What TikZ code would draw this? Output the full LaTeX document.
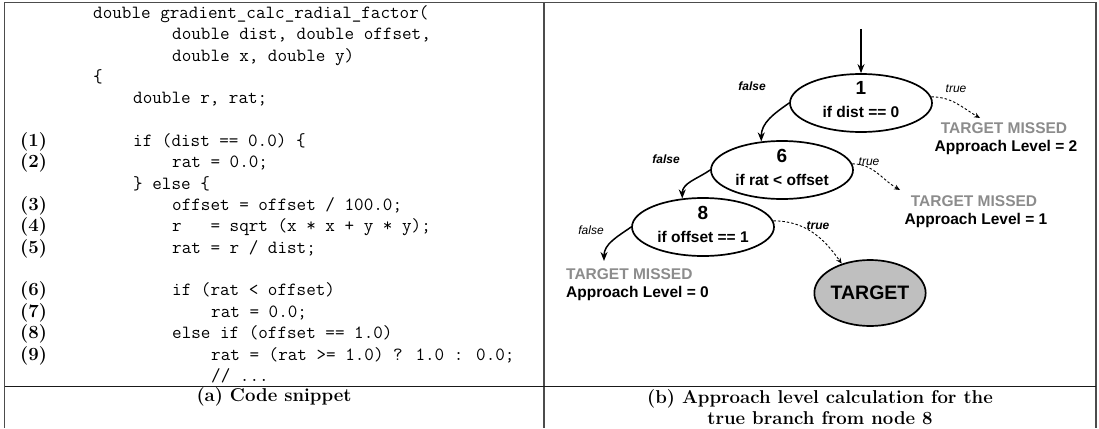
\documentclass[tikz,border=0pt]{standalone}
\usepackage{fontspec}
\newfontfamily\arialf{Liberation Sans}
\usetikzlibrary{shapes.geometric,arrows.meta}
\begin{document}
\begin{tikzpicture}[x=1pt,y=1pt,
  frame/.style={line width=1.5pt, black!70},
  codeline/.style={anchor=base west, inner sep=0pt, font=\fontsize{18.6}{20}\selectfont\ttfamily},
  lnum/.style={anchor=base west, inner sep=0pt, font=\fontsize{18.6}{20}\selectfont\bfseries},
  capt/.style={align=center, inner sep=0pt, font=\fontsize{18.6}{20.5}\selectfont\bfseries},
  cfgnode/.style={ellipse, draw, line width=1.7pt, minimum width=142pt, minimum height=58pt, inner sep=0pt},
  numtxt/.style={inner sep=0pt, font=\arialf\bfseries\fontsize{19}{19}\selectfont},
  condtxt/.style={inner sep=0pt, font=\arialf\bfseries\fontsize{15.5}{15.5}\selectfont},
  miss/.style={inner sep=0pt, font=\arialf\bfseries\fontsize{15.5}{15.5}\selectfont, text=black!45},
  level/.style={inner sep=0pt, font=\arialf\bfseries\fontsize{15.5}{15.5}\selectfont},
  brlab/.style={inner sep=0pt, font=\arialf\itshape\fontsize{12}{12}\selectfont},
  brlabb/.style={inner sep=0pt, font=\arialf\bfseries\itshape\fontsize{12}{12}\selectfont},
  taken/.style={line width=1.5pt, -{Stealth[length=9pt,width=7pt]}},
  nottaken/.style={line width=0.9pt, dash pattern=on 2.5pt off 2pt, -{Stealth[length=6pt,width=5pt]}},
]
\useasboundingbox (0,0) rectangle (1099,-428);
% table frame
\draw[frame] (4.5,-2.3) -- (1096,-2.3);
\draw[frame] (4.5,-2.3) -- (4.5,-428);
\draw[frame] (544,-2.3) -- (544,-428);
\draw[frame] (1096,-2.3) -- (1096,-428);
\draw[frame, black!90] (4.5,-386.5) -- (1096,-386.5);

% code
\node[codeline] (c0) at (93,-18.5) {double gradient\_calc\_radial\_factor(};
\node[codeline] (c1) at (172,-39.8) {double dist, double offset,};
\node[codeline] (c2) at (172,-61.2) {double x, double y)};
\node[codeline] (c3) at (93,-82.5) {\{};
\node[codeline] (c4) at (133,-103.9) {double r, rat;};
\node[codeline] (c6) at (133,-146.5) {if (dist == 0.0) \{};
\node[codeline] (c7) at (172,-167.9) {rat = 0.0;};
\node[codeline] (c8) at (133,-189.2) {\} else \{};
\node[codeline] (c9) at (172,-210.6) {offset = offset / 100.0;};
\node[codeline] (c10) at (172,-231.9) {r\ \ \ = sqrt (x * x + y * y);};
\node[codeline] (c11) at (172,-253.2) {rat = r / dist;};
\node[codeline] (c13) at (172,-295.9) {if (rat < offset)};
\node[codeline] (c14) at (211,-317.3) {rat = 0.0;};
\node[codeline] (c15) at (172,-338.6) {else if (offset == 1.0)};
\node[codeline] (c16) at (211,-360) {rat = (rat >= 1.0) ? 1.0 : 0.0;};
\node[codeline] (c17) at (211,-381.3) {// ...};

\node[lnum] (l1) at (20,-146.5) {(1)};
\node[lnum] (l2) at (20,-167.9) {(2)};
\node[lnum] (l3) at (20,-210.6) {(3)};
\node[lnum] (l4) at (20,-231.9) {(4)};
\node[lnum] (l5) at (20,-253.2) {(5)};
\node[lnum] (l6) at (20,-295.9) {(6)};
\node[lnum] (l7) at (20,-317.3) {(7)};
\node[lnum] (l8) at (20,-338.6) {(8)};
\node[lnum] (l9) at (20,-360) {(9)};

% captions
\node[capt] (capa) at (274,-397) {(a) Code snippet};
\node[capt] (capb) at (820,-407) {(b) Approach level calculation for the\\true branch from node 8};

% graph
\node[cfgnode] (n1) at (861,-103) {};
\node[numtxt] (n1num) at (861,-88) {1};
\node[condtxt] (n1txt) at (861,-112) {if dist == 0};

\node[cfgnode] (n6) at (782,-170) {};
\node[numtxt] (n6num) at (782,-156) {6};
\node[condtxt] (n6txt) at (782,-180) {if rat < offset};

\node[cfgnode] (n8) at (703,-227) {};
\node[numtxt] (n8num) at (703,-213) {8};
\node[condtxt] (n8txt) at (703,-237) {if offset == 1};

\node[ellipse, draw, line width=1.7pt, fill=black!25, minimum width=96pt, minimum height=66pt, inner sep=0pt,
      font=\arialf\bfseries\fontsize{19.5}{19.5}\selectfont] (tgt) at (870,-293) {TARGET};

\coordinate (entry) at (861,-29);
\draw[taken] (entry) -- (n1.north);

% node 1 branches
\draw[taken] (n1.west) to[out=215,in=90] (n6.126);
\node[brlabb] (f1) at (752,-86) {false};
\coordinate (m2tip) at (980,-118);
\draw[nottaken] (n1.5) to[out=0,in=150] (m2tip);
\node[brlab] (t1) at (956,-89) {true};
\node[miss] (tm2) at (1004,-128.5) {TARGET MISSED};
\node[level] (al2) at (1006,-147.5) {Approach Level = 2};

% node 6 branches
\draw[taken] (n6.west) to[out=215,in=90] (n8.126);
\node[brlabb] (f6) at (666,-159) {false};
\coordinate (m1tip) at (900,-190);
\draw[nottaken] (n6.5) to[out=0,in=150] (m1tip);
\node[brlab] (t6) at (869,-162) {true};
\node[miss] (tm1) at (974,-201) {TARGET MISSED};
\node[level] (al1) at (976,-220) {Approach Level = 1};

% node 8 branches
\coordinate (m0tip) at (604,-261);
\draw[taken] (n8.west) to[out=215,in=90] (m0tip);
\node[brlab] (f8) at (591,-230) {false};
\node[miss, anchor=west] (tm0) at (566,-274) {TARGET MISSED};
\node[level, anchor=west] (al0) at (566,-293) {Approach Level = 0};
\draw[nottaken] (n8.5) to[out=0,in=125] (tgt.134);
\node[brlabb] (t8) at (818,-226) {true};
\end{tikzpicture}
\end{document}
